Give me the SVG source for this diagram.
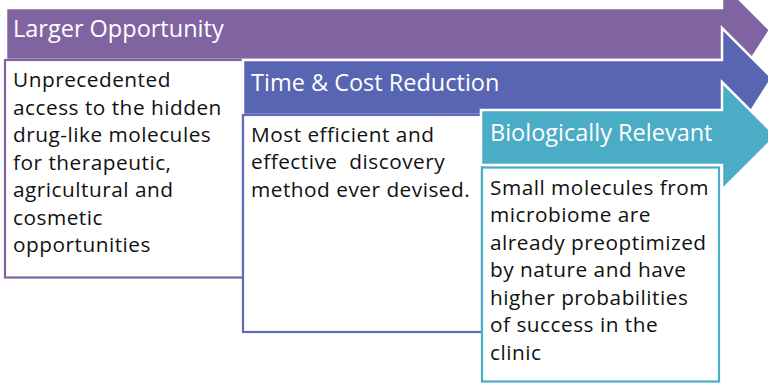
<svg xmlns="http://www.w3.org/2000/svg" width="768" height="383" viewBox="0 0 768 383">
  <style>
    .arrow { stroke: #ffffff; stroke-width: 2.5; stroke-linejoin: miter; }
    .box { fill: #ffffff; stroke-width: 2.2; }
    .head { font-family: "Open Sans", "Liberation Sans", sans-serif; font-size: 23.5px; fill: #ffffff; }
    .body { font-family: "Open Sans", "Liberation Sans", sans-serif; font-size: 20.8px; letter-spacing: 0.5px; fill: #111111; }
  </style>
  <rect x="0" y="0" width="768" height="383" fill="#ffffff"/>

  <g id="larger-opportunity">
    <polygon class="arrow" fill="#8064A2" points="6,8 722,8 722,-18 770,30 722,105 722,60 6,60"/>
    <rect class="box" stroke="#8064A2" x="5" y="60" width="238" height="217.5"/>
    <text class="head" x="13" y="37.3">Larger Opportunity</text>
    <text class="body" x="13">
      <tspan x="13" y="87.3">Unprecedented</tspan>
      <tspan x="13" y="114.8">access to the hidden</tspan>
      <tspan x="13" y="142.3">drug-like molecules</tspan>
      <tspan x="13" y="169.8">for therapeutic,</tspan>
      <tspan x="13" y="197.3">agricultural and</tspan>
      <tspan x="13" y="224.8">cosmetic</tspan>
      <tspan x="13" y="252.3">opportunities</tspan>
    </text>
  </g>

  <g id="time-cost-reduction">
    <polygon class="arrow" fill="#5865B2" points="243,60 722,60 722,28 772,78 722,157 722,115 243,115"/>
    <rect class="box" stroke="#5F6BB8" x="243" y="115" width="239" height="217"/>
    <text class="head" x="251" y="90.5">Time &amp; Cost Reduction</text>
    <text class="body" xml:space="preserve"><tspan x="251" y="141.7">Most efficient and</tspan><tspan x="251" y="169.2">effective  discovery</tspan><tspan x="251" y="196.7">method ever devised.</tspan></text>
  </g>

  <g id="biologically-relevant">
    <polygon class="arrow" fill="#4BACC6" points="481,110 722,110 722,82 776,136 722,190 722,165 481,165"/>
    <rect class="box" stroke="#4BACC6" x="482" y="167.5" width="237" height="214"/>
    <text class="head" x="490" y="141">Biologically Relevant</text>
    <text class="body">
      <tspan x="490" y="194.7">Small molecules from</tspan>
      <tspan x="490" y="222.2">microbiome are</tspan>
      <tspan x="490" y="249.7">already preoptimized</tspan>
      <tspan x="490" y="277.2">by nature and have</tspan>
      <tspan x="490" y="304.7">higher probabilities</tspan>
      <tspan x="490" y="332.2">of success in the</tspan>
      <tspan x="490" y="359.7">clinic</tspan>
    </text>
  </g>
</svg>
